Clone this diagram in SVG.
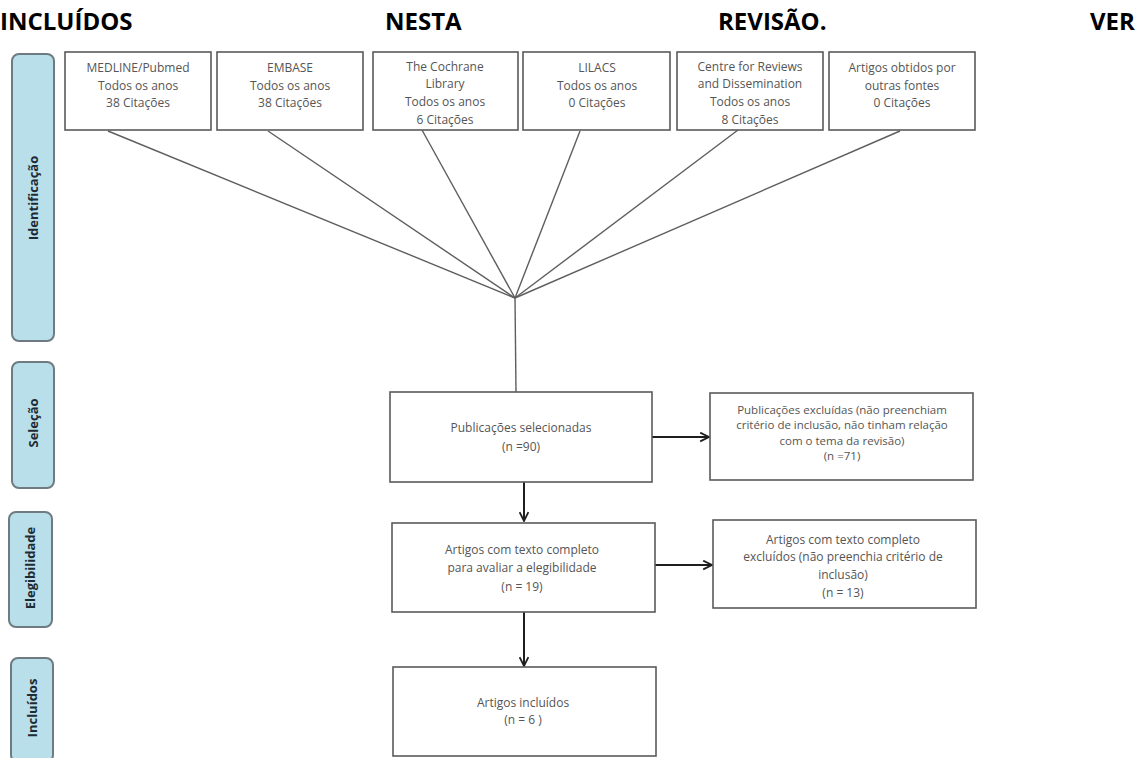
<svg xmlns="http://www.w3.org/2000/svg" width="1142" height="758" viewBox="0 0 1142 758">
<defs>
<style>
.title{font-family:"Open Sans","Liberation Sans",sans-serif;font-weight:bold;font-size:24px;fill:#000}
.box{fill:#fff;stroke:#5a5a5a;stroke-width:1.6}
.side{fill:#b9dfea;stroke:#6e7c82;stroke-width:2}
.st{font-family:"Open Sans","Liberation Sans",sans-serif;font-weight:bold;font-size:13px;fill:#1d2b33;text-anchor:middle}
.t{font-family:"Open Sans","Liberation Sans",sans-serif;font-size:12px;fill:#555;text-anchor:middle}
.ts{font-family:"Open Sans","Liberation Sans",sans-serif;font-size:11.5px;fill:#555;text-anchor:middle}
.ln{stroke:#5e5e5e;stroke-width:1.4;fill:none}
.ar{stroke:#1e1e1e;stroke-width:2;fill:none;marker-end:url(#ah)}
</style>
<marker id="ah" viewBox="0 0 10 10" refX="9" refY="5" markerWidth="5.5" markerHeight="5.5" orient="auto" markerUnits="strokeWidth">
<path d="M1,1 L9,5 L1,9" fill="none" stroke="#1e1e1e" stroke-width="1.6"/>
</marker>
</defs>
<rect width="1142" height="758" fill="#fff"/>
<g id="title">
<text class="title" x="0" y="30">INCLUÍDOS</text>
<text class="title" x="385" y="30">NESTA</text>
<text class="title" x="718" y="30">REVISÃO.</text>
<text class="title" x="1090" y="30">VER</text>
</g>
<g id="side-identificacao">
<rect class="side" x="12" y="54" width="42" height="287" rx="7"/>
<text class="st" transform="translate(38,198) rotate(-90)">Identificação</text>
</g>
<g id="side-selecao">
<rect class="side" x="12" y="362" width="42" height="126" rx="7"/>
<text class="st" transform="translate(38,423) rotate(-90)">Seleção</text>
</g>
<g id="side-elegibilidade">
<rect class="side" x="9" y="512" width="43" height="115" rx="7"/>
<text class="st" transform="translate(35,568) rotate(-90)">Elegibilidade</text>
</g>
<g id="side-incluidos">
<rect class="side" x="11" y="658" width="42" height="104" rx="7"/>
<text class="st" transform="translate(37,708) rotate(-90)">Incluídos</text>
</g>
<g id="connectors">
<line class="ln" x1="108" y1="131" x2="515" y2="298"/>
<line class="ln" x1="268" y1="131" x2="515" y2="298"/>
<line class="ln" x1="422" y1="130" x2="515" y2="298"/>
<line class="ln" x1="580" y1="131" x2="515" y2="298"/>
<line class="ln" x1="738" y1="130" x2="515" y2="298"/>
<line class="ln" x1="900" y1="131" x2="515" y2="298"/>
<line class="ln" x1="515" y1="298" x2="516" y2="392"/>
<line class="ar" x1="652" y1="437" x2="709" y2="437"/>
<line class="ar" x1="524" y1="482" x2="524" y2="521"/>
<line class="ar" x1="655" y1="565" x2="712" y2="565"/>
<line class="ar" x1="524" y1="612" x2="524" y2="666"/>
</g>
<g id="medline">
<rect class="box" x="65" y="52" width="146" height="78"/>
<text class="t" x="138" y="72">MEDLINE/Pubmed</text>
<text class="t" x="138" y="90">Todos os anos</text>
<text class="t" x="138" y="107">38 Citações</text>
</g>
<g id="embase">
<rect class="box" x="217" y="52" width="146" height="78"/>
<text class="t" x="290" y="72">EMBASE</text>
<text class="t" x="290" y="90">Todos os anos</text>
<text class="t" x="290" y="107">38 Citações</text>
</g>
<g id="cochrane">
<rect class="box" x="373" y="52" width="145" height="78"/>
<text class="t" x="445" y="71">The Cochrane</text>
<text class="t" x="445" y="88">Library</text>
<text class="t" x="445" y="106">Todos os anos</text>
<text class="t" x="445" y="124">6 Citações</text>
</g>
<g id="lilacs">
<rect class="box" x="523" y="52" width="147" height="78"/>
<text class="t" x="597" y="72">LILACS</text>
<text class="t" x="597" y="90">Todos os anos</text>
<text class="t" x="597" y="107">0 Citações</text>
</g>
<g id="crd">
<rect class="box" x="677" y="52" width="146" height="78"/>
<text class="t" x="750" y="71">Centre for Reviews</text>
<text class="t" x="750" y="88">and Dissemination</text>
<text class="t" x="750" y="106">Todos os anos</text>
<text class="t" x="750" y="124">8 Citações</text>
</g>
<g id="outras">
<rect class="box" x="829" y="52" width="146" height="78"/>
<text class="t" x="902" y="72">Artigos obtidos por</text>
<text class="t" x="902" y="90">outras fontes</text>
<text class="t" x="902" y="107">0 Citações</text>
</g>
<g id="selecionadas">
<rect class="box" x="390" y="392" width="262" height="90"/>
<text class="t" x="521" y="432">Publicações selecionadas</text>
<text class="t" x="521" y="451">(n =90)</text>
</g>
<g id="excluidas">
<rect class="box" x="710" y="393" width="263" height="87"/>
<text class="ts" x="842" y="414">Publicações excluídas (não preenchiam</text>
<text class="ts" x="842" y="429">critério de inclusão, não tinham relação</text>
<text class="ts" x="842" y="445">com o tema da revisão)</text>
<text class="ts" x="842" y="460">(n =71)</text>
</g>
<g id="texto-completo">
<rect class="box" x="392" y="523" width="263" height="89"/>
<text class="t" x="522" y="554">Artigos com texto completo</text>
<text class="t" x="522" y="572">para avaliar a elegibilidade</text>
<text class="t" x="522" y="591">(n = 19)</text>
</g>
<g id="texto-excluidos">
<rect class="box" x="713" y="520" width="263" height="88"/>
<text class="t" x="843" y="544">Artigos com texto completo</text>
<text class="t" x="843" y="561">excluídos (não preenchia critério de</text>
<text class="t" x="843" y="579">inclusão)</text>
<text class="t" x="843" y="597">(n = 13)</text>
</g>
<g id="incluidos">
<rect class="box" x="393" y="667" width="263" height="89"/>
<text class="t" x="523" y="707">Artigos incluídos</text>
<text class="t" x="523" y="724">(n = 6 )</text>
</g>
</svg>
